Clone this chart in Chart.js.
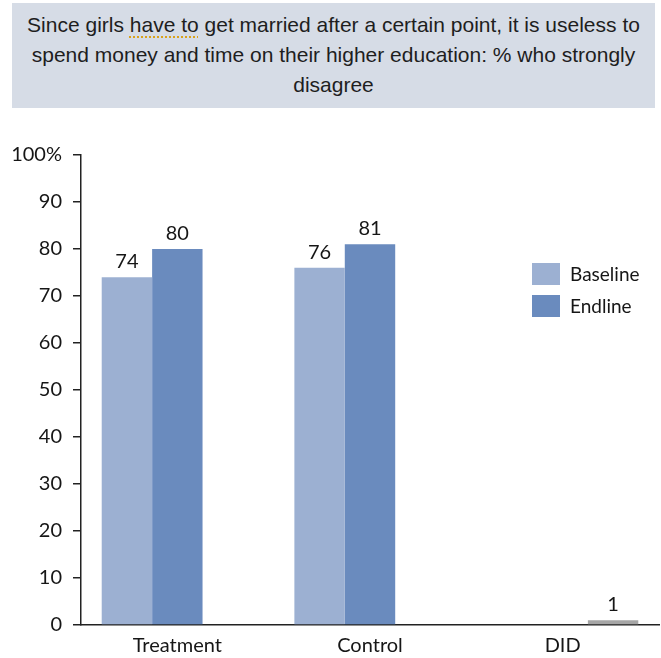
<!DOCTYPE html>
<html>
<head>
<meta charset="utf-8">
<script src="https://cdn.jsdelivr.net/npm/chart.js@4/dist/chart.umd.min.js"></script>
<style>
  html, body { margin: 0; padding: 0; background: #fff; width: 661px; height: 658px; overflow: hidden; }
  #wrap { position: relative; width: 661px; height: 658px; }
  #title {
    position: absolute; left: 12px; top: 3px; width: 643px; height: 105px;
    background: #d6dce6; box-sizing: border-box; padding-top: 7px;
    font-family: "Liberation Sans", Arial, sans-serif; font-size: 21px; line-height: 30px;
    color: #1e1e1e; text-align: center; z-index: 2;
  }
  #title .mark { text-decoration: underline dotted #d9a21b; text-decoration-thickness: 2px; text-underline-offset: 4px; }
  canvas { position: absolute; left: 0; top: 0; }
</style>
</head>
<body>
<div id="wrap">
  <div id="title">Since girls <span class="mark">have to</span> get married after a certain point, it is useless to<br>spend money and time on their higher education: % who strongly<br>disagree</div>
  <canvas id="chart" width="661" height="658"></canvas>
</div>
<script>
// Survey groups and the share (%) who strongly disagree
const categories = ['Treatment', 'Control', 'DID'];
const baselineValues = [74, 76, null];
const endlineValues = [80, 81, null];
const didValues = [null, null, 1];
const yTickLabels = ['0', '10', '20', '30', '40', '50', '60', '70', '80', '90', '100%'];

const COLORS = { baseline: '#9cb0d2', endline: '#6a8bbe', did: '#a6a6a6', text: '#161616', axis: '#222222' };
const FONT = 'Lato, "Open Sans", sans-serif';

Chart.defaults.font.family = FONT;
Chart.defaults.color = COLORS.text;

// Value labels above each bar
const valueLabels = {
  id: 'valueLabels',
  afterDatasetsDraw(chart) {
    const ctx = chart.ctx;
    ctx.save();
    ctx.font = '20px ' + FONT;
    ctx.fillStyle = COLORS.text;
    ctx.textAlign = 'center';
    ctx.textBaseline = 'alphabetic';
    chart.data.datasets.forEach((ds, di) => {
      const meta = chart.getDatasetMeta(di);
      meta.data.forEach((bar, i) => {
        const v = ds.data[i];
        if (v === null || v === undefined) return;
        ctx.fillText(String(v), bar.x, bar.y - 9);
      });
    });
    ctx.restore();
  }
};

// Legend drawn inside the plot area on the right
const sideLegend = {
  id: 'sideLegend',
  afterDraw(chart, args, opts) {
    const ctx = chart.ctx;
    ctx.save();
    ctx.font = '19px ' + FONT;
    ctx.textAlign = 'left';
    ctx.textBaseline = 'middle';
    let y = opts.y;
    chart.data.datasets.forEach(ds => {
      if (ds.hideInLegend) return;
      ctx.fillStyle = ds.backgroundColor;
      ctx.fillRect(opts.x, y, opts.boxW, opts.boxH);
      ctx.fillStyle = COLORS.text;
      ctx.fillText(ds.label, opts.x + opts.boxW + 10, y + opts.boxH / 2 + 1);
      y += opts.rowH;
    });
    ctx.restore();
  }
};

new Chart(document.getElementById('chart'), {
  type: 'bar',
  data: {
    labels: categories,
    datasets: [
      { label: 'Baseline', data: baselineValues, backgroundColor: COLORS.baseline },
      { label: 'Endline', data: endlineValues, backgroundColor: COLORS.endline },
      { label: 'DID', data: didValues, backgroundColor: COLORS.did, hideInLegend: true }
    ]
  },
  options: {
    responsive: false,
    animation: false,
    barPercentage: 1,
    categoryPercentage: 0.785,
    layout: { padding: { top: 155, right: 2, left: 0, bottom: 0 } },
    plugins: {
      legend: { display: false },
      title: { display: false },
      tooltip: { enabled: false },
      sideLegend: { x: 532, y: 263, boxW: 28, boxH: 22, rowH: 32 }
    },
    scales: {
      x: {
        grid: { display: false, drawTicks: false },
        border: { display: true, color: COLORS.axis, width: 1.5 },
        ticks: { font: { size: 20 }, color: COLORS.text, padding: 9 },
        afterFit(scale) { scale.height = 33; }
      },
      y: {
        min: 0,
        max: 100,
        ticks: {
          stepSize: 10,
          padding: 11,
          font: { size: 20 },
          color: COLORS.text,
          callback: (value, index) => yTickLabels[index]
        },
        grid: { drawOnChartArea: false, drawTicks: true, tickLength: 8, color: COLORS.axis, lineWidth: 1.5 },
        border: { display: true, color: COLORS.axis, width: 1.5 },
        afterFit(scale) { scale.width = 81; }
      }
    }
  },
  plugins: [valueLabels, sideLegend]
});
</script>
</body>
</html>
